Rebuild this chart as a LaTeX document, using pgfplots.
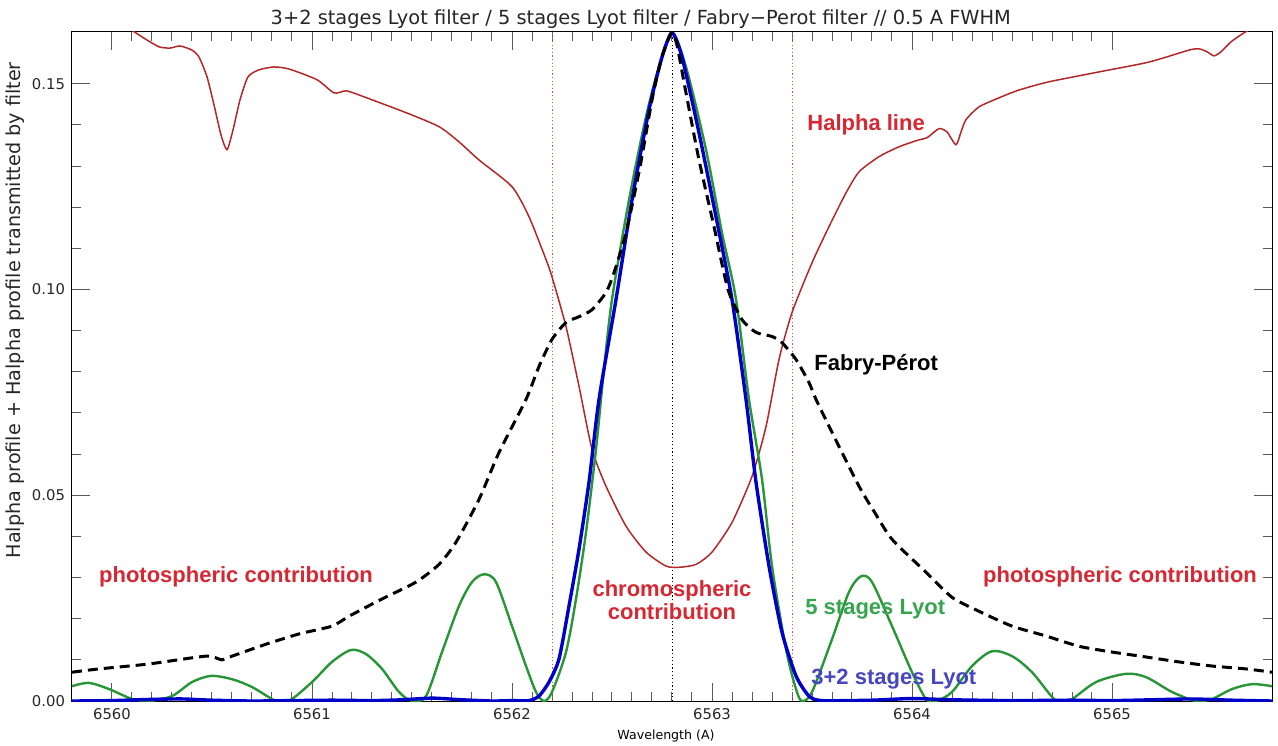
\documentclass[border=0pt]{standalone}
\usepackage{fontspec}
\setmainfont{DejaVu Sans}
\newfontfamily\annot{Liberation Sans}
\usepackage{pgfplots}
\pgfplotsset{compat=1.18}

\definecolor{haline}{RGB}{178,40,40}
\definecolor{redtxt}{RGB}{214,40,50}
\definecolor{lyot5}{RGB}{40,150,55}
\definecolor{lyot5txt}{RGB}{55,165,80}
\definecolor{lyot32}{RGB}{0,0,200}
\definecolor{lyot32txt}{RGB}{70,70,190}
\definecolor{vline}{RGB}{215,80,80}
\tikzset{annot/.style={font=\annot\bfseries\fontsize{11}{11.5}\selectfont, inner sep=0pt}}

\begin{document}
\begin{tikzpicture}
\begin{axis}[
  width=600pt, height=334.5pt, scale only axis,
  xmin=6559.8, xmax=6565.8,
  ymin=0, ymax=0.1626,
  xtick={6560,6561,6562,6563,6564,6565},
  ytick={0,0.05,0.10,0.15},
  minor x tick num=9,
  minor y tick num=4,
  tick align=inside,
  major tick length=9pt,
  minor tick length=4.5pt,
  tick style={black!65, line width=0.5pt},
  axis line style={black, line width=0.5pt},
  xticklabel style={/pgf/number format/set thousands separator={}, /pgf/number format/1000 sep={}},
  yticklabel style={/pgf/number format/fixed, /pgf/number format/fixed zerofill, /pgf/number format/precision=2},
  /pgf/number format/assume math mode=true,
  ticklabel style={font=\fontsize{7.4}{9}\selectfont, text=black!85},
  title={3+2 stages Lyot filter / 5 stages Lyot filter / Fabry−Perot filter // 0.5 A FWHM},
  every axis title/.style={at={(0.474,1)}, anchor=south, yshift=1.5pt, inner sep=0pt, font=\fontsize{9.7}{12}\selectfont, text=black!85},
  xlabel={Wavelength (A)},
  xlabel style={at={(axis description cs:0.495,-0.052)}, anchor=center, font=\fontsize{6.3}{7}\selectfont},
  ylabel={Halpha profile + Halpha profile transmitted by filter},
  ylabel style={at={(axis description cs:-0.0475,0.584)}, anchor=center, font=\fontsize{9.6}{12}\selectfont, text=black!85},
]
% filter band limits and line centre
\addplot[vline, line width=0.5pt, dash pattern=on 0.6pt off 1.2pt] coordinates {(6562.2,0) (6562.2,0.17)};
\addplot[vline, line width=0.5pt, dash pattern=on 0.6pt off 1.2pt] coordinates {(6563.4,0) (6563.4,0.17)};
\addplot[black, line width=0.5pt, dash pattern=on 0.6pt off 1.2pt] coordinates {(6562.8,0) (6562.8,0.17)};

% Halpha line profile
\addplot[haline, line width=0.75pt, smooth, tension=0.4] coordinates {
(6559.8,0.170) (6560.0,0.166) (6560.1,0.1630) (6560.16,0.1611) (6560.235,0.1590)
(6560.29,0.1587) (6560.34,0.1592) (6560.40,0.1582) (6560.435,0.1565) (6560.475,0.1517)
(6560.51,0.1449) (6560.545,0.1376) (6560.575,0.1340) (6560.605,0.1388) (6560.64,0.1461)
(6560.68,0.1517) (6560.735,0.1534) (6560.81,0.1541) (6560.885,0.1536) (6561.025,0.1510)
(6561.11,0.1478) (6561.17,0.1483) (6561.235,0.1473) (6561.475,0.1429) (6561.635,0.1396)
(6561.735,0.1359) (6561.835,0.1315) (6562.0,0.1250) (6562.085,0.1177) (6562.17,0.1073)
(6562.2,0.1031) (6562.27,0.0910) (6562.335,0.0765) (6562.4,0.0612) (6562.47,0.0522)
(6562.57,0.0425) (6562.67,0.0362) (6562.77,0.0328) (6562.835,0.0325) (6562.92,0.0332)
(6563.0,0.0362) (6563.1,0.0434) (6563.2,0.0546) (6563.27,0.0667) (6563.335,0.0830)
(6563.4,0.0944) (6563.5,0.1065) (6563.585,0.1153) (6563.67,0.1235) (6563.735,0.1286)
(6563.835,0.1323) (6563.935,0.1347) (6564.035,0.1364) (6564.075,0.1369) (6564.135,0.1391)
(6564.175,0.1383) (6564.22,0.1352) (6564.245,0.1383) (6564.27,0.1413) (6564.335,0.1444)
(6564.435,0.1466) (6564.535,0.1485) (6564.685,0.1505) (6564.935,0.1529) (6565.185,0.1553)
(6565.385,0.1582) (6565.435,0.1585) (6565.475,0.1578) (6565.51,0.1568) (6565.545,0.1578)
(6565.595,0.1602) (6565.66,0.1624) (6565.735,0.1643) (6565.8,0.1655)
};

% 5 stages Lyot
\addplot[lyot5, line width=1.2pt, smooth, tension=0.5] coordinates {
(6559.8,0.0036) (6559.885,0.0044) (6559.985,0.0029) (6560.1,0.0005) (6560.185,0.0)
(6560.3,0.0012) (6560.4,0.0046) (6560.495,0.0061) (6560.6,0.0053) (6560.7,0.0034)
(6560.82,0.0) (6560.885,0.0) (6561.0,0.0046) (6561.1,0.0095) (6561.195,0.0124)
(6561.27,0.0114) (6561.35,0.0078) (6561.435,0.0022) (6561.5,0.0) (6561.57,0.0012)
(6561.65,0.0119) (6561.735,0.0231) (6561.8,0.0289) (6561.86,0.0308) (6561.92,0.0289)
(6562.0,0.0182) (6562.07,0.0085) (6562.12,0.0022) (6562.16,0.0) (6562.2,0.0022)
(6562.27,0.0119) (6562.32,0.0248) (6562.37,0.0410) (6562.42,0.0612) (6562.46,0.0806)
(6562.5,0.0976) (6562.585,0.1218) (6562.67,0.1420) (6562.735,0.1541) (6562.8,0.1624)
(6562.87,0.1541) (6562.97,0.1340) (6563.05,0.1138) (6563.12,0.0976) (6563.185,0.0733)
(6563.25,0.0539) (6563.3,0.0328) (6563.37,0.0126) (6563.42,0.0029) (6563.45,0.0)
(6563.5,0.0022) (6563.6,0.0150) (6563.685,0.0265) (6563.745,0.0303) (6563.8,0.0289)
(6563.9,0.0182) (6564.0,0.0070) (6564.07,0.0005) (6564.12,0.0) (6564.2,0.0022)
(6564.3,0.0085) (6564.4,0.0121) (6564.5,0.0109) (6564.6,0.0070) (6564.72,0.0)
(6564.785,0.0) (6564.92,0.0046) (6565.07,0.0066) (6565.17,0.0058) (6565.3,0.0022)
(6565.42,0.0) (6565.5,0.0005) (6565.6,0.0029) (6565.7,0.0041) (6565.8,0.0036)
};

% 3+2 stages Lyot
\addplot[lyot32, line width=1.7pt, smooth, tension=0.4] coordinates {
(6559.8,0.0) (6560.0,0.0001) (6560.2,0.0004) (6560.35,0.0005) (6560.5,0.0002)
(6560.7,0.0) (6560.9,0.0001) (6561.1,0.0002) (6561.3,0.0001) (6561.45,0.0003)
(6561.6,0.0007) (6561.75,0.0003) (6561.9,0.0) (6562.0,0.0001) (6562.085,0.0001)
(6562.135,0.0012) (6562.185,0.0046) (6562.235,0.0102) (6562.285,0.0231) (6562.335,0.0369)
(6562.385,0.0532) (6562.435,0.0733) (6562.52,0.0976) (6562.6,0.1218) (6562.685,0.1437)
(6562.75,0.1565) (6562.8,0.1624) (6562.85,0.1565) (6562.935,0.1381) (6563.02,0.1177)
(6563.1,0.0976) (6563.17,0.0733) (6563.22,0.0532) (6563.285,0.0328) (6563.35,0.0167)
(6563.42,0.0061) (6563.485,0.0012) (6563.55,0.0001) (6563.8,0.0002) (6564.0,0.0006)
(6564.2,0.0003) (6564.5,0.0001) (6564.8,0.0002) (6565.0,0.0001) (6565.2,0.0003)
(6565.4,0.0005) (6565.6,0.0002) (6565.8,0.0)
};

% Fabry-Perot
\addplot[black, line width=1.5pt, dash pattern=on 5pt off 3pt, smooth, tension=0.4] coordinates {
(6559.8,0.0070) (6559.935,0.0078) (6560.185,0.0090) (6560.47,0.0109) (6560.55,0.0100)
(6560.6,0.0109) (6560.77,0.0138) (6560.935,0.0163) (6561.1,0.0182) (6561.185,0.0206)
(6561.35,0.0248) (6561.52,0.0289) (6561.635,0.0332) (6561.72,0.0386) (6561.835,0.0490)
(6561.935,0.0604) (6562.07,0.0733) (6562.135,0.0813) (6562.2,0.0879) (6562.27,0.0920)
(6562.335,0.0934) (6562.4,0.0951) (6562.47,0.0993) (6562.51,0.1041) (6562.57,0.1138)
(6562.64,0.1298) (6562.70,0.1461) (6562.745,0.1558) (6562.78,0.1607) (6562.8,0.1624)
(6562.825,0.1594) (6562.87,0.1478) (6562.935,0.1315) (6563.01,0.1153) (6563.08,0.1000)
(6563.15,0.0927) (6563.22,0.0896) (6563.3,0.0886) (6563.35,0.0871) (6563.42,0.0830)
(6563.485,0.0774) (6563.52,0.0733) (6563.6,0.0653) (6563.735,0.0522) (6563.81,0.0461)
(6563.9,0.0393) (6564.07,0.0313) (6564.2,0.0252) (6564.335,0.0218) (6564.5,0.0182)
(6564.67,0.0158) (6564.835,0.0133) (6565.0,0.0119) (6565.17,0.0107) (6565.335,0.0095)
(6565.5,0.0085) (6565.67,0.0078) (6565.8,0.0070)
};

\node[annot, anchor=west, text=redtxt] at (axis cs:6563.475,0.140) {Halpha line};
\node[annot, anchor=west, text=black] at (axis cs:6563.51,0.0818) {Fabry-Pérot};
\node[annot, anchor=center, text=redtxt] at (axis cs:6560.62,0.0301) {photospheric contribution};
\node[annot, anchor=center, text=redtxt] at (axis cs:6565.04,0.0301) {photospheric contribution};
\node[annot, anchor=center, align=center, text=redtxt] at (axis cs:6562.8,0.0246) {chromospheric\\contribution};
\node[annot, anchor=west, text=lyot5txt] at (axis cs:6563.465,0.0223) {5 stages Lyot};
\node[annot, anchor=west, text=lyot32txt] at (axis cs:6563.495,0.0053) {3+2 stages Lyot};
\end{axis}
\pgfresetboundingbox
\path[use as bounding box] ([xshift=-36pt,yshift=-22pt]current axis.south west) rectangle ([xshift=3pt,yshift=16pt]current axis.north east);
\end{tikzpicture}
\end{document}
